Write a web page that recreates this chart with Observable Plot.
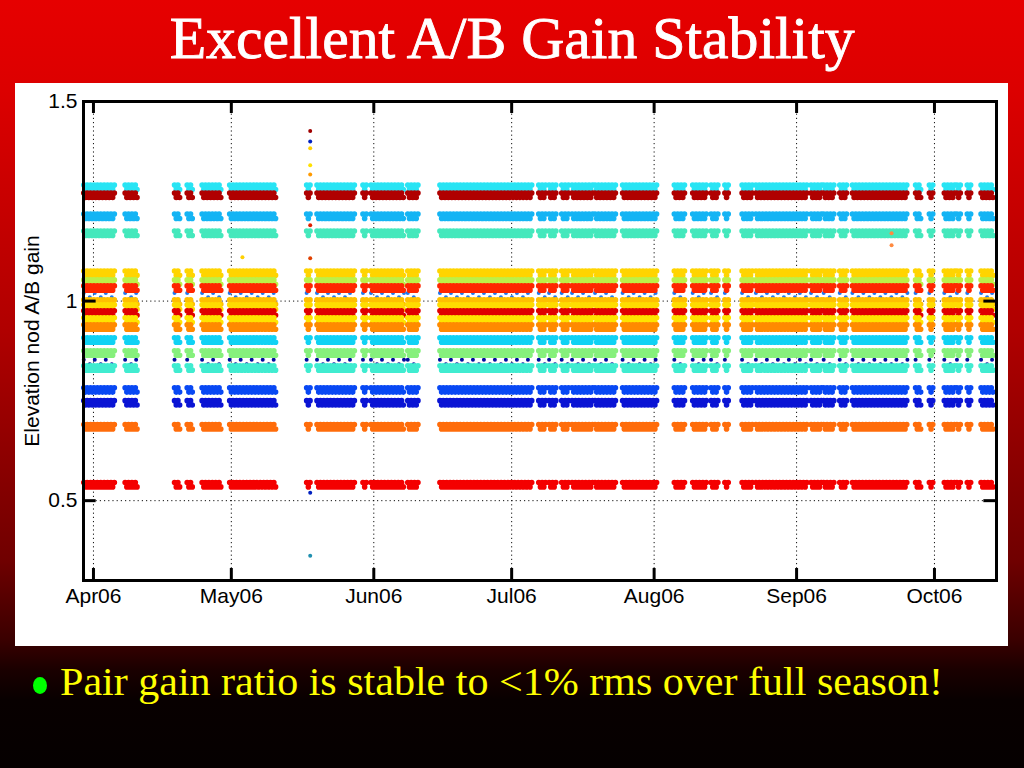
<!DOCTYPE html>
<html>
<head>
<meta charset="utf-8">
<script src="https://cdn.jsdelivr.net/npm/d3@7"></script>
<script src="https://cdn.jsdelivr.net/npm/@observablehq/plot@0.6"></script>
<style>
  html, body { margin: 0; padding: 0; }
  body {
    width: 1024px; height: 768px; position: relative; overflow: hidden;
    background: linear-gradient(to bottom, #e60000 0px, #dc0000 90px, #b00000 330px, #700000 560px, #3a0000 640px, #1a0000 670px, #080000 700px, #050000 768px);
  }
  #title {
    position: absolute; left: 0; top: 5px; width: 1024px; text-align: center;
    font-family: "Liberation Serif", serif; font-size: 60px; color: #fff; line-height: 66px;
    white-space: nowrap; -webkit-text-stroke: 0.9px #fff;
  }
  #title span { display: inline-block; transform-origin: center center; }
  #panel {
    position: absolute; left: 15px; top: 83px; width: 993px; height: 563px; background: #fff;
  }
  #bullet {
    position: absolute; left: 0; top: 660px; width: 1024px; height: 44px;
    font-family: "Liberation Serif", serif; font-size: 39px; color: #ffff00; white-space: nowrap;
  }
  #bullet .dot {
    position: absolute; left: 33px; top: 17px; width: 14px; height: 17px; border-radius: 50%; background: #00ff00;
  }
  #bullet span.txt { display: inline-block; transform-origin: left center; position: absolute; left: 60px; top: 0px; line-height: 44px; }
</style>
</head>
<body>
<div id="title"><span>Excellent A/B Gain Stability</span></div>
<div id="panel"></div>
<div id="bullet"><div class="dot"></div><span class="txt">Pair gain ratio is stable to &lt;1% rms over full season!</span></div>
<script>
// ---- data ----
// detector-pair gain levels (series), drawn in this order
const seriesLevels = [0.8475, 1.015, 1.285, 1.265, 1.2125, 1.17, 1.07, 1.0475, 1.0325, 0.9975, 0.985, 0.97, 0.9525, 0.935, 0.9025, 0.87, 0.8325, 0.7775, 0.745, 0.685, 0.54];
const seriesColors = ["#000c9c", "#1e78f0", "#28e4f4", "#b00000", "#14b4f4", "#44e8bc", "#ffd400", "#bcf048", "#ff2600", "#ffc000", "#ffdc00", "#e00000", "#ffe400", "#ff8a00", "#10d2f4", "#86f07c", "#40ecd0", "#0848f4", "#0a14d4", "#ff6c0a", "#f40000"];
// observing periods (start, end)
const segStart = ["2006-03-30T00:00Z","2006-04-08T00:00Z","2006-04-18T18:00Z","2006-04-21T12:00Z","2006-04-24T18:00Z","2006-04-30T18:00Z","2006-05-17T12:00Z","2006-05-19T18:00Z","2006-05-29T18:00Z","2006-05-31T12:00Z","2006-06-08T12:00Z","2006-06-15T12:00Z","2006-07-07T00:00Z","2006-07-09T06:00Z","2006-07-12T00:00Z","2006-07-14T06:00Z","2006-07-19T06:00Z","2006-07-25T06:00Z","2006-08-05T12:00Z","2006-08-09T12:00Z","2006-08-13T12:00Z","2006-08-16T12:00Z","2006-08-20T06:00Z","2006-08-23T06:00Z","2006-09-04T06:00Z","2006-09-07T00:00Z","2006-09-10T12:00Z","2006-09-13T06:00Z","2006-09-27T00:00Z","2006-09-30T00:00Z","2006-10-03T06:00Z","2006-10-06T00:00Z","2006-10-08T06:00Z","2006-10-11T06:00Z"];
const segEnd   = ["2006-04-05T18:00Z","2006-04-10T18:00Z","2006-04-20T00:00Z","2006-04-22T18:00Z","2006-04-29T00:00Z","2006-05-11T00:00Z","2006-05-18T06:00Z","2006-05-28T00:00Z","2006-05-30T18:00Z","2006-06-07T18:00Z","2006-06-10T18:00Z","2006-07-05T12:00Z","2006-07-08T18:00Z","2006-07-10T22:00Z","2006-07-13T18:00Z","2006-07-18T18:00Z","2006-07-23T18:00Z","2006-08-01T18:00Z","2006-08-07T18:00Z","2006-08-12T12:00Z","2006-08-15T06:00Z","2006-08-17T12:00Z","2006-08-22T12:00Z","2006-09-03T12:00Z","2006-09-06T12:00Z","2006-09-09T06:00Z","2006-09-12T00:00Z","2006-09-25T06:00Z","2006-09-28T06:00Z","2006-10-01T00:00Z","2006-10-05T12:00Z","2006-10-07T00:00Z","2006-10-09T06:00Z","2006-10-14T00:00Z"];
// isolated outlier points
const outlierDates  = ["2006-05-18T04:00Z","2006-05-18T04:00Z","2006-05-18T04:00Z","2006-05-18T04:00Z","2006-05-18T04:00Z","2006-05-18T04:00Z","2006-05-18T04:00Z","2006-05-18T04:00Z","2006-05-18T04:00Z","2006-05-03T10:00Z","2006-09-21T16:00Z","2006-09-21T16:00Z"];
const outlierValues = [1.426, 1.40, 1.383, 1.34, 1.317, 1.19, 1.107, 0.52, 0.362, 1.11, 1.17, 1.14];
const outlierColors = ["#a00000","#0020c0","#ffd000","#ffe000","#ff9a00","#e02000","#e04000","#0020c0","#2090b0","#ffd000","#ff8a40","#ff8a40"];
// axis ticks
const monthTicks = ["2006-04-01","2006-05-01","2006-06-01","2006-07-01","2006-08-01","2006-09-01","2006-10-01"];
const yTicks = [0.5, 1, 1.5];
const xDomain = ["2006-03-29T20:00Z", "2006-10-14T12:00Z"];
const yDomain = [0.3, 1.5];

// ---- build tables ----
const months = monthTicks.map(d => new Date(d + "T00:00Z"));
const x0 = new Date(xDomain[0]), x1 = new Date(xDomain[1]);
const segments = segStart.map((s, i) => ({start: new Date(s), end: new Date(segEnd[i])}));
const outliers = outlierDates.map((d, i) => ({date: new Date(d), value: outlierValues[i], color: outlierColors[i]}));

const bandMarks = [];
seriesLevels.forEach((lvl, i) => {
  const rows = segments.map(s => ({x1: s.start, x2: s.end, y: lvl, color: seriesColors[i]}));
  const speck = i < 2;
  const common = {x1: "x1", x2: "x2", y: "y", stroke: "color", strokeLinecap: "round",
                  strokeWidth: speck ? 4 : 5.6, strokeDasharray: speck ? "0,11" : "0,3.4"};
  bandMarks.push(Plot.ruleY(rows, {...common, dy: -2.2}));
  bandMarks.push(Plot.ruleY(rows, {...common, dy: 2.2, strokeDashoffset: speck ? 5 : 1.7}));
});

const tickLenY = 0.03;
const tickLenX = d3.utcHour.offset(x0, 66);
const xRight0 = d3.utcHour.offset(x1, -66);

const chart = Plot.plot({
  width: 993, height: 563,
  marginLeft: 68, marginRight: 12, marginTop: 18, marginBottom: 66,
  style: {fontFamily: "'Liberation Sans', Arial, sans-serif", fontSize: "21px", background: "white", color: "black"},
  x: {type: "utc", domain: [x0, x1]},
  y: {domain: yDomain},
  color: {type: "identity"},
  marks: [
    // dotted grid
    Plot.ruleX(months, {x: d => d, stroke: "#111", strokeWidth: 1, strokeDasharray: "1.2,3"}),
    Plot.ruleY([0.5, 1], {y: d => d, stroke: "#111", strokeWidth: 1, strokeDasharray: "1.2,3"}),
    ...bandMarks,
    Plot.dot(outliers, {x: "date", y: "value", fill: "color", r: 2}),
    // axes
    Plot.axisX(months, {tickFormat: d3.utcFormat("%b%y"), tickSize: 0, tickPadding: 8, fontSize: 21, label: null}),
    Plot.axisY(yTicks, {tickFormat: d => String(d), tickSize: 0, tickPadding: 6, fontSize: 21, label: null}),
    Plot.text(["Elevation nod A/B gain"], {frameAnchor: "left", dx: -51, rotate: -90, textAnchor: "middle", lineAnchor: "middle", fontSize: 21, fill: "black"}),
    // inward ticks (MATLAB style)
    Plot.ruleX(months, {x: d => d, y1: yDomain[0], y2: yDomain[0] + tickLenY, stroke: "black", strokeWidth: 3}),
    Plot.ruleX(months, {x: d => d, y1: yDomain[1] - tickLenY, y2: yDomain[1], stroke: "black", strokeWidth: 3}),
    Plot.ruleY(yTicks, {y: d => d, x1: x0, x2: tickLenX, stroke: "black", strokeWidth: 3}),
    Plot.ruleY(yTicks, {y: d => d, x1: xRight0, x2: x1, stroke: "black", strokeWidth: 3}),
    Plot.frame({stroke: "black", strokeWidth: 3})
  ]
});
document.getElementById("panel").appendChild(chart);

// fit text widths to the slide
function fit(el, target) {
  const w = el.getBoundingClientRect().width;
  if (w > 0) el.style.transform = `scaleX(${target / w})`;
}
fit(document.querySelector("#title span"), 685);
fit(document.querySelector("#bullet span.txt"), 883);
</script>
</body>
</html>
